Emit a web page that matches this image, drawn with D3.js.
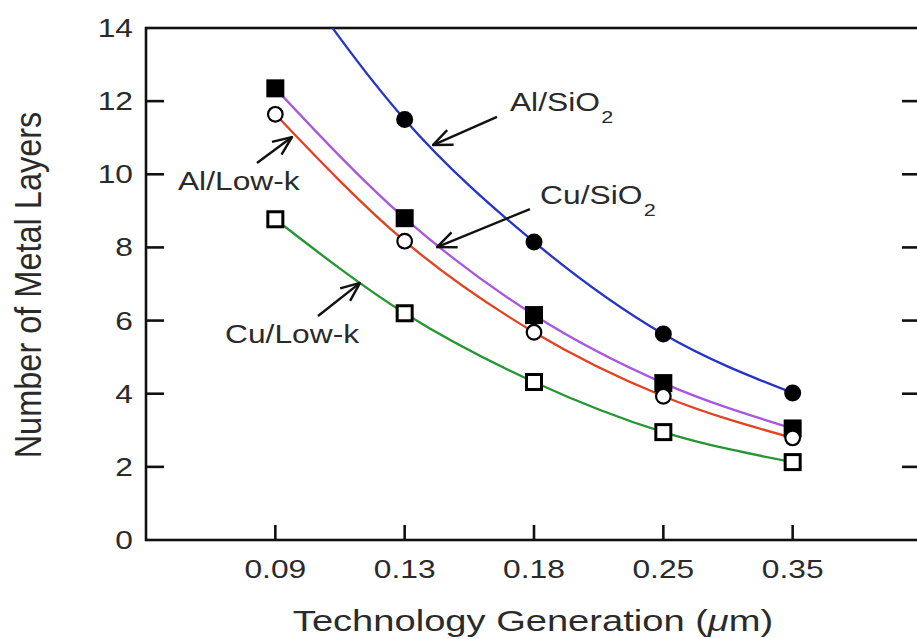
<!DOCTYPE html>
<html>
<head>
<meta charset="utf-8">
<script src="https://cdn.jsdelivr.net/npm/d3@7"></script>
<style>
  body { margin: 0; background: #fff; }
  text { font-family: "Liberation Sans", Arial, sans-serif; fill: #2a2a2a; }
</style>
</head>
<body>
<svg id="chart"></svg>
<script>
// chart size and frame
const width = 917;
const height = 639;
const stretch = 1.27; // the source picture is widened a bit, so is the text

const generations = ["0.09", "0.13", "0.18", "0.25", "0.35"];
const yTicks = [0, 2, 4, 6, 8, 10, 12, 14];

// number of metal layers per technology generation
const alSiO2 = [16.2, 11.5, 8.15, 5.63, 4.02];
const cuSiO2 = [12.35, 8.8, 6.15, 4.29, 3.05];
const alLowK = [11.64, 8.17, 5.68, 3.93, 2.79];
const cuLowK = [8.77, 6.2, 4.32, 2.95, 2.13];

const series = [
  { name: "Al/SiO2", values: alSiO2, color: "#2433c8", marker: "dot" },
  { name: "Cu/SiO2", values: cuSiO2, color: "#a957e0", marker: "square" },
  { name: "Al/Low-k", values: alLowK, color: "#e2421f", marker: "circle" },
  { name: "Cu/Low-k", values: cuLowK, color: "#249632", marker: "box" }
];

// callouts, in data units (generation index, layers)
const labels = [
  { main: "Al/SiO", sub: "2", at: [1.814, 11.73], from: [1.714, 11.57], to: [1.219, 10.8] },
  { main: "Cu/SiO", sub: "2", at: [2.047, 9.19], from: [1.969, 9.05], to: [1.25, 8.01] },
  { main: "Al/Low-k", sub: "", at: [-0.753, 9.57], from: [-0.142, 10.31], to: [0.129, 11.02] },
  { main: "Cu/Low-k", sub: "", at: [-0.389, 5.39], from: [0.33, 6.125], to: [0.655, 7.03] }
];

const x = d3.scaleLinear().domain([-1, 5]).range([146, 922]);
const y = d3.scaleLinear().domain([0, 14]).range([540, 28]);

const svg = d3.select("#chart")
    .attr("width", width)
    .attr("height", height);

svg.append("defs").append("clipPath")
    .attr("id", "plot")
  .append("rect")
    .attr("x", x(-1)).attr("y", y(14))
    .attr("width", x(5) - x(-1)).attr("height", y(0) - y(14));

svg.append("defs").append("marker")
    .attr("id", "head")
    .attr("viewBox", "0 0 22 20")
    .attr("refX", 21).attr("refY", 10)
    .attr("markerWidth", 22).attr("markerHeight", 20)
    .attr("markerUnits", "userSpaceOnUse")
    .attr("orient", "auto")
  .append("path")
    .attr("d", "M2,2 L21,10 L2,18")
    .attr("fill", "none")
    .attr("stroke", "#111")
    .attr("stroke-width", 2.4);

// frame
svg.append("rect")
    .attr("x", x(-1)).attr("y", y(14))
    .attr("width", x(5) - x(-1)).attr("height", y(0) - y(14))
    .attr("fill", "none")
    .attr("stroke", "#111")
    .attr("stroke-width", 2.6);

// y ticks, inward on both sides
const inner = yTicks.filter(d => d > 0 && d < 14);
svg.append("g").selectAll("line.l")
    .data(inner)
    .join("line")
    .attr("x1", x(-1)).attr("x2", x(-1) + 18)
    .attr("y1", d => y(d)).attr("y2", d => y(d))
    .attr("stroke", "#111").attr("stroke-width", 2.6);
svg.append("g").selectAll("line.r")
    .data(inner)
    .join("line")
    .attr("x1", x(5)).attr("x2", x(5) - 20)
    .attr("y1", d => y(d)).attr("y2", d => y(d))
    .attr("stroke", "#111").attr("stroke-width", 2.6);

svg.append("g").selectAll("text")
    .data(yTicks)
    .join("text")
    .attr("transform", d => `translate(${x(-1) - 13},${y(d) + 9}) scale(${stretch},1)`)
    .attr("text-anchor", "end")
    .attr("font-size", 25)
    .text(d => d);

// x ticks, inward
svg.append("g").selectAll("line")
    .data(generations)
    .join("line")
    .attr("x1", (d, i) => x(i)).attr("x2", (d, i) => x(i))
    .attr("y1", y(0)).attr("y2", y(0) - 15)
    .attr("stroke", "#111").attr("stroke-width", 2.6);

svg.append("g").selectAll("text")
    .data(generations)
    .join("text")
    .attr("transform", (d, i) => `translate(${x(i)},${y(0) + 38}) scale(${stretch},1)`)
    .attr("text-anchor", "middle")
    .attr("font-size", 25)
    .text(d => d);

// axis titles
const xt = svg.append("text")
    .attr("transform", `translate(${(x(-1) + 920) / 2},631) scale(${stretch},1)`)
    .attr("text-anchor", "middle")
    .attr("font-size", 30);
xt.append("tspan").text("Technology Generation (");
xt.append("tspan").attr("font-style", "italic").text("\u03BC");
xt.append("tspan").text("m)");

svg.append("text")
    .attr("transform", `translate(41,285) scale(1.15,1) rotate(-90)`)
    .attr("text-anchor", "middle")
    .attr("font-size", 32.5)
    .text("Number of Metal Layers");

// curves
const line = d3.line()
    .x((d, i) => x(i))
    .y(d => y(d))
    .curve(d3.curveMonotoneX);

const plot = svg.append("g").attr("clip-path", "url(#plot)");

plot.selectAll("path.curve")
    .data(series)
    .join("path")
    .attr("class", "curve")
    .attr("d", d => line(d.values))
    .attr("fill", "none")
    .attr("stroke", d => d.color)
    .attr("stroke-width", 2.3);

// markers: filled first, open ones on top
const order = ["dot", "square", "box", "circle"];
order.forEach(kind => {
  const s = series.find(d => d.marker === kind);
  const g = plot.append("g");
  const pts = s.values.map((v, i) => ({ i, v }));
  if (kind === "dot") {
    g.selectAll("circle").data(pts).join("circle")
      .attr("cx", d => x(d.i)).attr("cy", d => y(d.v)).attr("r", 8.5)
      .attr("fill", "#000");
  } else if (kind === "square") {
    g.selectAll("rect").data(pts).join("rect")
      .attr("x", d => x(d.i) - 9).attr("y", d => y(d.v) - 9)
      .attr("width", 18).attr("height", 18)
      .attr("fill", "#000");
  } else if (kind === "box") {
    g.selectAll("rect").data(pts).join("rect")
      .attr("x", d => x(d.i) - 7.5).attr("y", d => y(d.v) - 7.5)
      .attr("width", 15).attr("height", 15)
      .attr("fill", "#fff").attr("stroke", "#000").attr("stroke-width", 3);
  } else {
    g.selectAll("circle").data(pts).join("circle")
      .attr("cx", d => x(d.i)).attr("cy", d => y(d.v)).attr("r", 7.3)
      .attr("fill", "#fff").attr("stroke", "#000").attr("stroke-width", 2.2);
  }
});

// callout arrows and labels
svg.append("g").selectAll("line")
    .data(labels)
    .join("line")
    .attr("x1", d => x(d.from[0])).attr("y1", d => y(d.from[1]))
    .attr("x2", d => x(d.to[0])).attr("y2", d => y(d.to[1]))
    .attr("stroke", "#111").attr("stroke-width", 2.4)
    .attr("marker-end", "url(#head)");

const lab = svg.append("g").selectAll("text")
    .data(labels)
    .join("text")
    .attr("transform", d => `translate(${x(d.at[0])},${y(d.at[1])}) scale(${stretch},1)`)
    .attr("font-size", 25);
lab.append("tspan").text(d => d.main);
lab.append("tspan")
    .attr("font-size", 17)
    .attr("dy", 12)
    .attr("dx", 1)
    .text(d => d.sub);
</script>
</body>
</html>
